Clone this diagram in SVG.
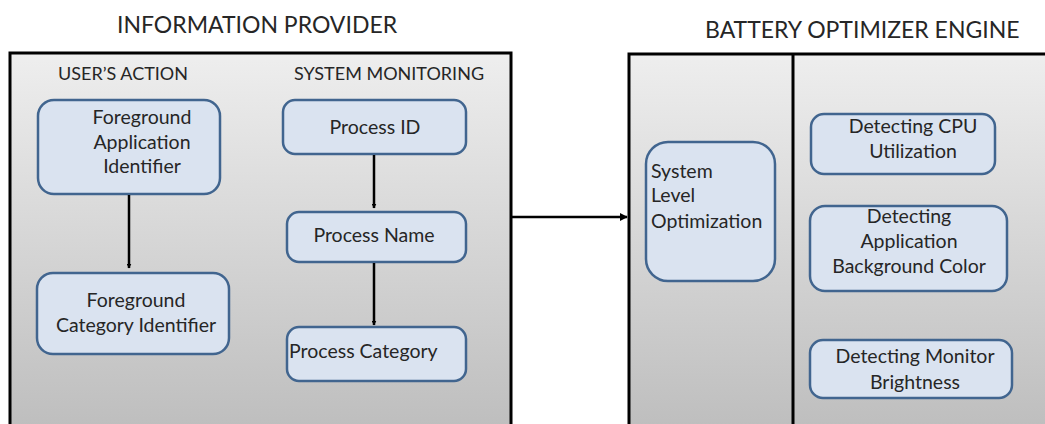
<svg xmlns="http://www.w3.org/2000/svg" width="1045" height="424" viewBox="0 0 1045 424">
<defs>
<linearGradient id="pg" x1="0" y1="0" x2="0" y2="1">
<stop offset="0" stop-color="#eeeeee"/>
<stop offset="1" stop-color="#bcbcbc"/>
</linearGradient>
<marker id="ah" viewBox="0 0 10 10" refX="9" refY="5" markerWidth="5" markerHeight="5" orient="auto" markerUnits="userSpaceOnUse">
<path d="M0,0 L10,5 L0,10 z" fill="#000"/>
</marker>
<marker id="ah2" viewBox="0 0 10 10" refX="9" refY="5" markerWidth="8" markerHeight="8" orient="auto" markerUnits="userSpaceOnUse">
<path d="M0,0 L10,5 L0,10 z" fill="#000"/>
</marker>
</defs>
<style>
.panel{fill:url(#pg);stroke:#000;stroke-width:3}
.box{fill:#dae3f0;stroke:#41658f;stroke-width:2.5}
.t{font-family:Lato,"Liberation Sans",sans-serif;font-size:19.5px;fill:#262626}
.h{font-family:Lato,"Liberation Sans",sans-serif;font-size:18px;fill:#262626}
.title{font-family:Lato,"Liberation Sans",sans-serif;font-size:23px;fill:#262626}
.c{text-anchor:middle}
.conn{stroke:#000;stroke-width:2.5;fill:none}
</style>
<rect width="1045" height="424" fill="#fff"/>
<g id="panel-info">
<text class="title" x="117" y="33">INFORMATION PROVIDER</text>
<rect class="panel" x="10" y="53" width="501" height="390"/>
<text class="h" x="58" y="80">USER’S ACTION</text>
<text class="h" x="294" y="80">SYSTEM MONITORING</text>
</g>
<g id="panel-engine">
<text class="title" x="705" y="38">BATTERY OPTIMIZER ENGINE</text>
<rect class="panel" x="629" y="54" width="430" height="390"/>
<line x1="793" y1="54" x2="793" y2="430" stroke="#000" stroke-width="3"/>
</g>
<g id="n-fai">
<rect class="box" x="38" y="100" width="182" height="94" rx="16"/>
<text class="t c" x="142" y="124">Foreground</text>
<text class="t c" x="142" y="149">Application</text>
<text class="t c" x="142" y="173">Identifier</text>
</g>
<g id="n-fci">
<rect class="box" x="37" y="273" width="192" height="81" rx="16"/>
<text class="t c" x="136" y="307">Foreground</text>
<text class="t c" x="136" y="332">Category Identifier</text>
</g>
<g id="n-pid">
<rect class="box" x="283" y="100" width="183" height="54" rx="12"/>
<text class="t c" x="375" y="134">Process ID</text>
</g>
<g id="n-pname">
<rect class="box" x="287" y="212" width="179" height="50" rx="12"/>
<text class="t c" x="374" y="242">Process Name</text>
</g>
<g id="n-pcat">
<rect class="box" x="287" y="327" width="179" height="54" rx="12"/>
<text class="t" x="289" y="358">Process Category</text>
</g>
<g id="n-slo">
<rect class="box" x="646" y="142" width="129" height="139" rx="22"/>
<text class="t" x="651" y="178">System</text>
<text class="t" x="651" y="202">Level</text>
<text class="t" x="651" y="228">Optimization</text>
</g>
<g id="n-cpu">
<rect class="box" x="811" y="114" width="184" height="60" rx="13"/>
<text class="t c" x="913" y="133">Detecting CPU</text>
<text class="t c" x="913" y="158">Utilization</text>
</g>
<g id="n-bg">
<rect class="box" x="810" y="206" width="197" height="85" rx="15"/>
<text class="t c" x="909" y="223">Detecting</text>
<text class="t c" x="909" y="248">Application</text>
<text class="t c" x="909" y="273">Background Color</text>
</g>
<g id="n-bright">
<rect class="box" x="810" y="340" width="202" height="58" rx="13"/>
<text class="t c" x="915" y="363">Detecting Monitor</text>
<text class="t c" x="915" y="389">Brightness</text>
</g>
<g id="connectors">
<line class="conn" x1="129" y1="195" x2="129" y2="268" marker-end="url(#ah)"/>
<line class="conn" x1="374" y1="155" x2="374" y2="208" marker-end="url(#ah)"/>
<line class="conn" x1="374" y1="263" x2="374" y2="325" marker-end="url(#ah)"/>
<line class="conn" x1="512" y1="217" x2="627" y2="217" marker-end="url(#ah2)"/>
</g>
</svg>
